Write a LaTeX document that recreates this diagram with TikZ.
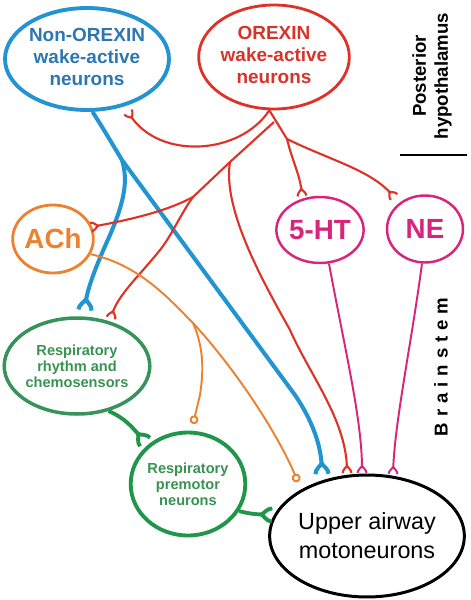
\documentclass[tikz,border=0pt]{standalone}
\usepackage{fontspec}
\setmainfont{Liberation Sans}
\usetikzlibrary{arrows.meta,shapes.geometric}
\definecolor{cblue}{RGB}{34,148,210}
\definecolor{tblue}{RGB}{44,118,178}
\definecolor{cred}{RGB}{222,50,38}
\definecolor{tred}{RGB}{214,52,42}
\definecolor{corange}{RGB}{236,130,48}
\definecolor{cmag}{RGB}{216,36,122}
\definecolor{cgreen}{RGB}{32,150,74}
\definecolor{cgreenb}{RGB}{56,146,92}
\definecolor{tgreen}{RGB}{58,146,82}
\pgfdeclarearrow{
  name = Syn,
  parameters = {\the\pgfarrowlength,\the\pgfarrowwidth},
  setup code = {
    \pgfarrowssettipend{\pgfarrowlength}
    \pgfarrowssetbackend{0pt}
    \pgfarrowssetlineend{0.3\pgfarrowlength}
    \pgfarrowssavethe\pgfarrowlength
    \pgfarrowssavethe\pgfarrowwidth
  },
  drawing code = {
    \pgfpathmoveto{\pgfpoint{\pgfarrowlength}{0.5\pgfarrowwidth}}
    \pgfpathcurveto{\pgfpoint{0.55\pgfarrowlength}{0.5\pgfarrowwidth}}
                   {\pgfpoint{0.25\pgfarrowlength}{0.12\pgfarrowwidth}}
                   {\pgfpoint{0pt}{0pt}}
    \pgfpathcurveto{\pgfpoint{0.25\pgfarrowlength}{-0.12\pgfarrowwidth}}
                   {\pgfpoint{0.55\pgfarrowlength}{-0.5\pgfarrowwidth}}
                   {\pgfpoint{\pgfarrowlength}{-0.5\pgfarrowwidth}}
    \pgfusepathqstroke
  },
  defaults = {length = 5pt, width = 6pt}
}
\begin{document}
\begin{tikzpicture}[x=0.02cm,y=-0.02cm,
  cell/.style={ellipse,draw,inner sep=0pt,align=center,font=\bfseries},
  synB/.style={-{Syn[length=6pt,width=7.5pt]}},
  synS/.style={-{Syn[length=4pt,width=5pt]}},
  circT/.style={-{Circle[open,length=5pt,width=5pt,fill=white]}},
  bl/.style={draw=cblue,line width=2.3pt},
  rd/.style={draw=cred,line width=1.2pt},
  orl/.style={draw=corange,line width=1.1pt},
  mg/.style={draw=cmag,line width=1.1pt},
  gr/.style={draw=cgreen,line width=2.2pt},
  side/.style={rotate=90,font=\bfseries,align=center}]
\useasboundingbox (0,0) rectangle (471,600);

% nodes
\node[cell,draw=cblue,line width=2.2pt,text=tblue,minimum width=3.24cm,minimum height=2.04cm,
  font=\bfseries\fontsize{10.8}{12.6}\selectfont] (nonorx) at (87,59)
  {\raisebox{-3pt}{\begin{tabular}{@{}c@{}}Non-OREXIN\\wake-active\\neurons\end{tabular}}};
\node[cell,draw=cred,line width=1.6pt,text=tred,minimum width=2.94cm,minimum height=2.08cm,
  font=\bfseries\fontsize{10.8}{12.6}\selectfont] (orx) at (274,57)
  {\raisebox{-1.5pt}{\begin{tabular}{@{}c@{}}OREXIN\\wake-active\\neurons\end{tabular}}};
\node[cell,draw=corange,line width=1.6pt,text=corange,minimum width=1.52cm,minimum height=1.36cm,
  font=\bfseries\fontsize{15.8}{18}\selectfont] (ach) at (53,239) {ACh};
\node[cell,draw=cmag,line width=1.4pt,text=cmag,minimum width=1.48cm,minimum height=1.32cm,
  font=\bfseries\fontsize{15.8}{18}\selectfont] (sht) at (320,230) {5-HT};
\node[cell,draw=cmag,line width=1.4pt,text=cmag,minimum width=1.52cm,minimum height=1.34cm,
  font=\bfseries\fontsize{15.8}{18}\selectfont] (ne) at (425,229) {NE};
\node[cell,draw=cgreenb,line width=2pt,text=tgreen,minimum width=2.44cm,minimum height=1.92cm,
  font=\bfseries\fontsize{8.3}{9}\selectfont] (rr) at (77,366)
  {Respiratory\\rhythm and\\chemosensors};
\node[cell,draw=cgreen,line width=2.2pt,text=tgreen,minimum width=2.1cm,minimum height=2.06cm,
  font=\bfseries\fontsize{8.3}{9.2}\selectfont] (pm) at (188,484)
  {Respiratory\\premotor\\neurons};
\node[cell,draw=black,line width=1.7pt,minimum width=3.88cm,minimum height=2.44cm,
  font=\fontsize{13.3}{16.4}\selectfont] (ua) at (367,536)
  {Upper airway\\motoneurons};

\node[side,font=\bfseries\fontsize{10.6}{12.5}\selectfont] (ph) at (432,76) {Posterior\\hypothalamus};
\coordinate (sepL) at (400,155);
\coordinate (sepR) at (467,155);
\draw[line width=1.1pt] (sepL) -- (sepR);
\node[side,font=\bfseries\fontsize{10.6}{12.5}\selectfont\addfontfeature{LetterSpace=32}] (bs) at (441,367) {Brainstem};

% coordinates
\coordinate (b0) at (122,160);
\coordinate (r1) at (287,139);
\coordinate (r0) at (274,122);
\coordinate (r2) at (230,162);
\coordinate (r3) at (193,197);
\coordinate (o0) at (193,323);
\coordinate (tipNon) at (128,112);
\coordinate (tipRRb) at (85,310);
\coordinate (tipUAb) at (322,474);
\coordinate (tipACh) at (91,227);
\coordinate (tipRRr) at (111,318);
\coordinate (tipUAr) at (347,473);
\coordinate (tip5HT) at (302,196);
\coordinate (tipNE) at (394,197);
\coordinate (tipUA5) at (362,473);
\coordinate (tipUAne) at (393,474);
\coordinate (circPM) at (193,424);
\coordinate (circUA) at (298,482);
\coordinate (tipPM) at (145,442);
\coordinate (tipUAg) at (272,515);

% blue
\draw[bl] (nonorx.-84) .. controls (104,130) .. (b0);
\draw[bl,synB] (b0) .. controls (128,180) and (125,200) .. (110,235) .. controls (95,268) and (87,290) .. (tipRRb);
\draw[bl,synB] (b0) -- (295,395) .. controls (312,420) and (321,445) .. (tipUAb);

% red
\draw[rd,synS] (orx.-95) .. controls (240,155) and (160,160) .. (tipNon);
\draw[rd] (orx.-95) -- (r1);
\draw[rd,synS] (r0) -- (r2) -- (r3) .. controls (165,212) and (128,220) .. (tipACh);
\draw[rd,synS] (r2) .. controls (222,210) and (265,285) .. (290,330) .. controls (310,375) and (346,420) .. (tipUAr);
\draw[rd,synS] (r3) .. controls (180,215) and (172,235) .. (160,250) .. controls (140,275) and (118,295) .. (tipRRr);
\draw[rd,synS] (r1) .. controls (292,160) and (300,175) .. (tip5HT);
\draw[rd,synS] (r1) .. controls (330,160) and (370,170) .. (tipNE);

% orange
\draw[orl] (ach.-22) .. controls (140,265) and (170,300) .. (o0);
\draw[orl,circT] (o0) .. controls (232,365) and (276,430) .. (circUA);
\draw[orl,circT] (o0) .. controls (205,350) and (203,375) .. (200,395) -- (circPM);

% magenta
\draw[mg,synS] (sht.-75) .. controls (345,350) and (362,420) .. (tipUA5);
\draw[mg,synS] (ne.-95) .. controls (412,340) and (395,420) .. (tipUAne);

% green
\draw[gr,synB] (rr.-55) .. controls (125,418) and (133,428) .. (tipPM);
\draw[gr,synB] (pm.-28) .. controls (252,514) .. (tipUAg);
\end{tikzpicture}
\end{document}
